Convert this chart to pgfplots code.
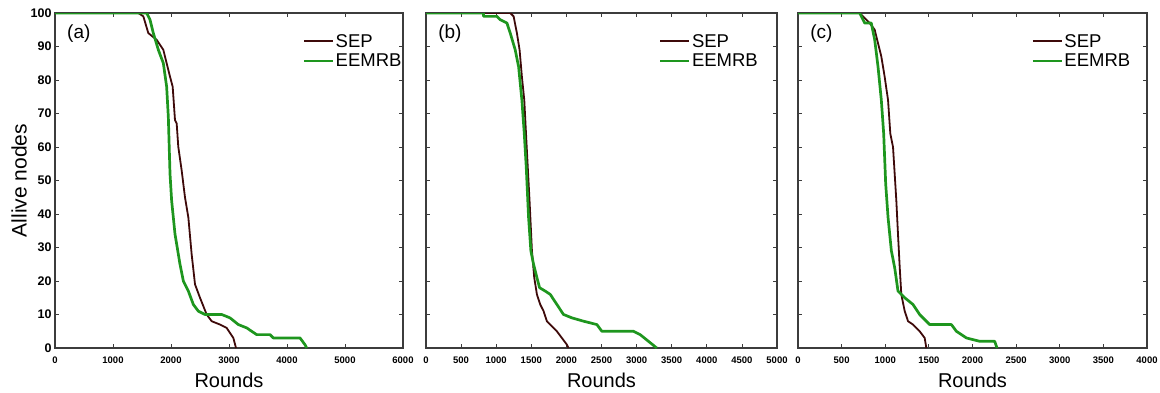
\documentclass[border=0pt]{standalone}
\usepackage{fontspec}
\setmainfont{Liberation Sans}
\usepackage{pgfplots}
\pgfplotsset{compat=1.18}
\definecolor{sepc}{RGB}{62,10,10}
\definecolor{eemc}{RGB}{30,150,30}
\definecolor{axc}{RGB}{60,60,60}
\pgfplotsset{
  panel/.style={
    scale only axis, height=335pt, ymin=0, ymax=100, xmin=0,
    ytick={0,10,...,100},
    axis line style={axc, line width=1.2pt},
    tick style={axc, line width=0.8pt},
    tick align=inside, major tick length=4pt,
    /pgf/number format/assume math mode=true,
    /pgf/number format/1000 sep={},
    xticklabel style={font=\fontsize{9.5}{9.5}\selectfont\bfseries, yshift=-5pt},
    yticklabel style={font=\fontsize{12.5}{12.5}\selectfont\bfseries},
    xlabel={Rounds},
    xlabel style={font=\fontsize{20}{20}\selectfont, yshift=-3pt},
    legend image code/.code={\draw[#1] (0pt,0pt) -- (29pt,0pt);},
    legend cell align=left,
    legend style={draw=none, fill=none, font=\fontsize{18.5}{18.5}\selectfont,
      nodes={inner sep=1.2pt}, row sep=3pt, anchor=north west},
  },
  sep/.style={sepc, line width=1.8pt, line join=round},
  eem/.style={eemc, line width=2.7pt, line join=round},
}
\begin{document}
\begin{tikzpicture}
\useasboundingbox (0,0) rectangle (1160pt,392pt);
% ---------- (a)
\begin{axis}[panel, at={(55pt,44pt)}, anchor=south west, width=348pt,
  xmax=6000, xtick={0,1000,...,6000},
  ylabel={Allive nodes},
  ylabel style={font=\fontsize{21}{21}\selectfont, yshift=-3pt},
  legend style={at={(0.703,0.947)}}]
\addplot[sep] coordinates {
(0,100)(1437,100)(1523,99)(1609,94)(1753,92)(1868,89)(1925,85)(1983,81)(2029,78)
(2069,68)(2098,67)(2126,60)(2184,53)(2241,45)(2299,39)(2356,28)(2414,19)(2500,15)
(2615,10)(2701,8)(2845,7)(2960,6)(3075,3)(3121,0)};
\addlegendentry{SEP}
\addplot[eem] coordinates {
(0,100)(1580,100)(1638,98)(1695,94)(1782,89)(1868,85)(1925,78)(1954,69)(1983,52)
(2011,44)(2069,34)(2155,25)(2213,20)(2299,17)(2385,13)(2471,11)(2586,10)(2874,10)
(3017,9)(3161,7)(3305,6)(3477,4)(3707,4)(3764,3)(4224,3)(4310,1)(4339,0)};
\addlegendentry{EEMRB}
\node[anchor=north west, font=\fontsize{19}{19}\selectfont] at (axis description cs:0.025,0.975) {(a)};
\end{axis}
% ---------- (b)
\begin{axis}[panel, at={(426pt,44pt)}, anchor=south west, width=351pt,
  xmax=5000, xtick={0,500,...,5000}, yticklabels={},
  legend style={at={(0.655,0.947)}}]
\addplot[sep] coordinates {
(0,100)(1200,100)(1248,99)(1295,94)(1333,89)(1366,81)(1400,74)(1437,59)(1475,44)
(1509,29)(1542,21)(1580,16)(1627,13)(1675,11)(1722,8)(1817,6)(1864,5)(1935,3)
(2007,1)(2030,0)};
\addlegendentry{SEP}
\addplot[eem] coordinates {
(0,100)(820,100)(820,99)(1010,99)(1058,98)(1153,97)(1200,94)(1271,89)(1319,84)
(1366,74)(1400,64)(1428,54)(1461,39)(1494,29)(1532,25)(1580,21)(1618,18)(1698,17)
(1770,16)(1864,13)(1959,10)(2078,9)(2244,8)(2434,7)(2505,5)(2955,5)(3050,4)
(3169,2)(3287,0)};
\addlegendentry{EEMRB}
\node[anchor=north west, font=\fontsize{19}{19}\selectfont] at (axis description cs:0.025,0.975) {(b)};
\end{axis}
% ---------- (c)
\begin{axis}[panel, at={(798pt,44pt)}, anchor=south west, width=349pt,
  xmax=4000, xtick={0,500,...,4000}, yticklabels={},
  legend style={at={(0.66,0.947)}}]
\addplot[sep] coordinates {
(0,100)(707,100)(745,99)(821,97)(879,95)(917,91)(955,87)(993,81)(1032,74)(1058,64)
(1089,60)(1108,52)(1127,44)(1146,34)(1166,24)(1184,16)(1223,11)(1261,8)(1318,7)
(1394,5)(1452,3)(1471,0)};
\addlegendentry{SEP}
\addplot[eem] coordinates {
(0,100)(707,100)(764,97)(840,97)(879,92)(917,84)(955,74)(982,64)(1005,49)(1032,39)
(1070,29)(1108,24)(1146,17)(1223,15)(1318,13)(1394,10)(1509,7)(1758,7)(1815,5)
(1930,3)(2082,2)(2254,2)(2281,0)};
\addlegendentry{EEMRB}
\node[anchor=north west, font=\fontsize{19}{19}\selectfont] at (axis description cs:0.025,0.975) {(c)};
\end{axis}
\end{tikzpicture}
\end{document}
